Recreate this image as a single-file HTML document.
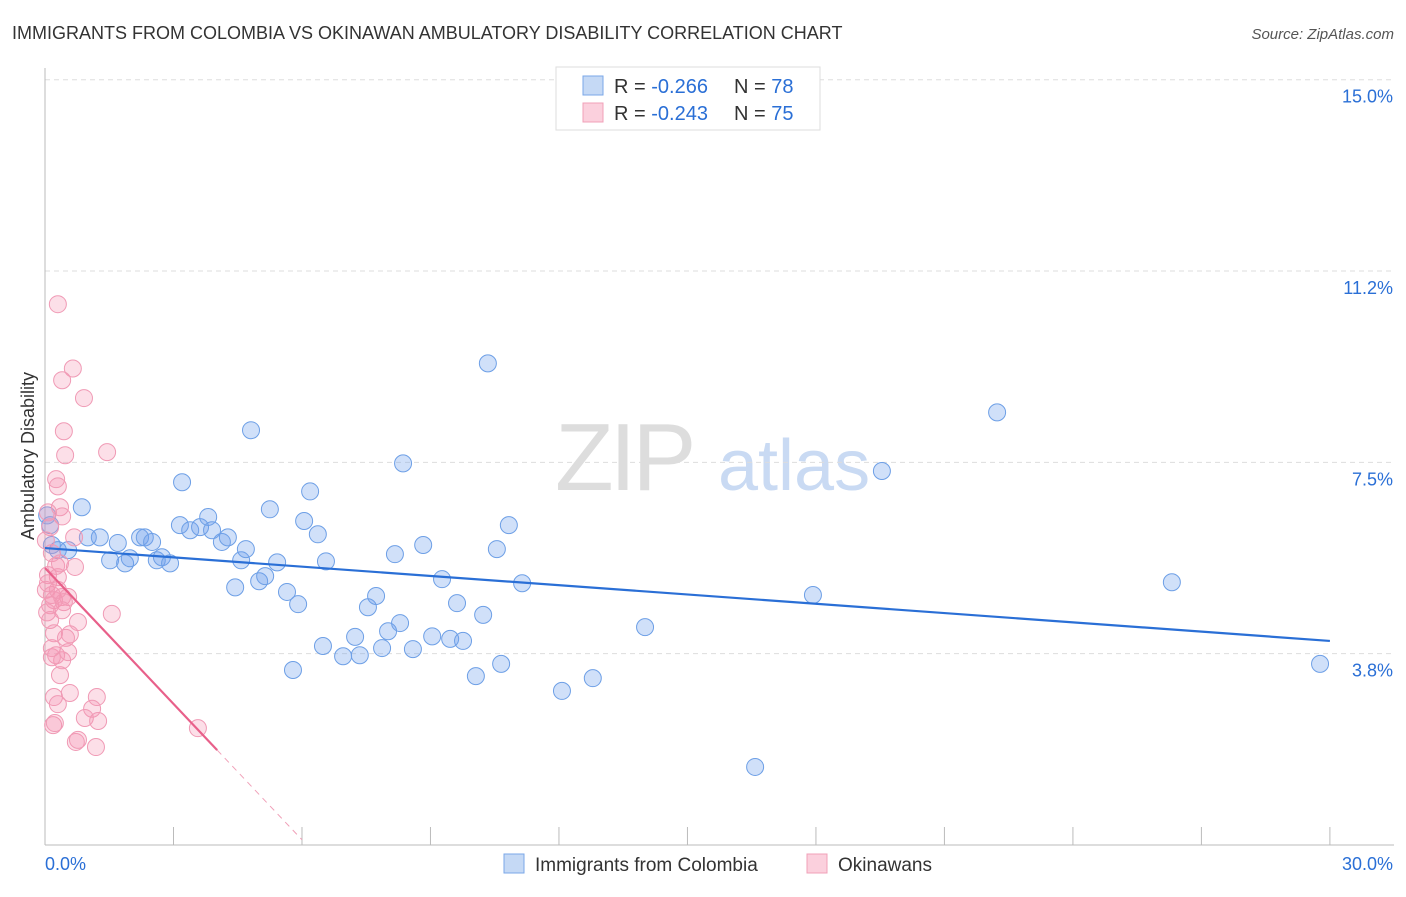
<!DOCTYPE html>
<html><head><meta charset="utf-8"><style>
body{margin:0;background:#fff;font-family:"Liberation Sans",sans-serif}
svg text{font-family:"Liberation Sans",sans-serif}
</style></head><body>
<svg id="chart" width="1406" height="892" viewBox="0 0 1406 892" xmlns="http://www.w3.org/2000/svg">
<text x="12" y="39" font-size="18" fill="#333">IMMIGRANTS FROM COLOMBIA VS OKINAWAN AMBULATORY DISABILITY CORRELATION CHART</text>
<text x="1394" y="39" font-size="15" fill="#555" text-anchor="end" font-style="italic">Source: ZipAtlas.com</text>
<g>
<text x="555" y="490" font-size="96" fill="#ddd" font-family="Liberation Serif" letter-spacing="-4">ZIP</text>
<text x="718" y="490" font-size="72" fill="#c9daf3">atlas</text>
</g>
<g id="grid"></g>
<g id="axes"></g>
<g id="marks"></g>
<g id="trends"></g>
<text transform="translate(34,456) rotate(-90)" font-size="18" fill="#333" text-anchor="middle">Ambulatory Disability</text>
<g>
<rect x="556" y="67" width="264" height="63" fill="#fff" stroke="#ddd"/>
<rect x="583" y="76" width="20" height="19" fill="#c5d9f5" stroke="#7aa7e8"/>
<rect x="583" y="103" width="20" height="19" fill="#fbd0dd" stroke="#f0a0b8"/>
<text x="614" y="93" font-size="20" fill="#333">R = <tspan fill="#2a6fd6">-0.266</tspan><tspan x="734">N = </tspan><tspan fill="#2a6fd6">78</tspan></text>
<text x="614" y="120" font-size="20" fill="#333">R = <tspan fill="#2a6fd6">-0.243</tspan><tspan x="734">N = </tspan><tspan fill="#2a6fd6">75</tspan></text>
</g>
<g>
<rect x="504" y="854" width="20" height="19" fill="#c5d9f5" stroke="#7aa7e8"/>
<text x="535" y="871" font-size="19" fill="#333">Immigrants from Colombia</text>
<rect x="807" y="854" width="20" height="19" fill="#fbd0dd" stroke="#f0a0b8"/>
<text x="838" y="871" font-size="19" fill="#333">Okinawans</text>
</g>
</svg>
<script>
const blueX=[0.05,0.12,0.16,0.30,0.54,0.86,1.00,1.28,1.52,1.70,1.87,1.98,2.22,2.33,2.50,2.61,2.73,2.92,3.15,3.20,3.39,3.62,3.81,3.90,4.13,4.27,4.44,4.58,4.69,4.81,5.00,5.14,5.25,5.42,5.65,5.79,5.91,6.05,6.19,6.37,6.49,6.56,6.96,7.24,7.35,7.54,7.73,7.87,8.01,8.29,8.36,8.17,8.59,8.83,9.04,9.27,9.46,9.62,9.76,10.06,10.23,10.34,10.55,10.65,10.83,11.14,12.07,12.79,14.01,16.58,17.93,19.54,22.23,26.31,29.77];
const blueY=[6.46,6.27,5.88,5.78,5.78,6.62,6.03,6.03,5.58,5.92,5.52,5.62,6.03,6.03,5.94,5.58,5.64,5.52,6.27,7.11,6.17,6.23,6.43,6.17,5.94,6.03,5.05,5.58,5.80,8.13,5.17,5.27,6.58,5.54,4.96,3.43,4.72,6.35,6.93,6.09,3.90,5.56,3.70,4.08,3.72,4.66,4.88,3.86,4.19,4.35,7.48,5.70,3.84,5.88,4.09,5.21,4.04,4.74,4.00,3.31,4.51,9.44,5.80,3.55,6.27,5.13,3.02,3.27,4.27,1.53,4.90,7.33,8.48,5.15,3.55];
const pinkX=[0.30,0.65,0.40,0.91,1.45,0.44,0.47,0.26,0.30,0.35,0.07,0.40,0.12,0.02,0.68,0.16,0.26,0.70,0.07,0.30,0.02,0.16,0.40,0.54,0.12,0.21,0.44,0.05,0.12,0.77,0.58,0.21,0.49,1.56,0.26,0.40,0.54,0.16,0.35,0.58,0.21,1.21,1.10,0.93,1.24,0.19,0.23,0.72,0.77,1.19,3.57,0.35,0.07,0.30,0.40,0.16,0.30];
const pinkY=[10.60,9.34,9.11,8.76,7.70,8.11,7.64,7.17,7.03,6.62,6.52,6.44,6.23,5.97,6.03,5.72,5.47,5.45,5.29,5.25,5.00,4.90,4.86,4.86,4.70,4.80,4.76,4.56,4.41,4.37,4.13,4.15,4.06,4.53,3.72,3.62,3.78,3.68,3.33,2.98,2.90,2.90,2.67,2.49,2.43,2.35,2.39,2.02,2.06,1.92,2.29,5.52,5.13,5.00,4.60,3.86,2.76];
const yTicks=[3.75,7.5,11.25,15];
const yTickLabels=["3.8%","7.5%","11.2%","15.0%"];
const xTicks=[0,3,6,9,12,15,18,21,24,27,30];
const blueTrend=[5.82,4.00];
const pinkTrend=[5.43,-0.888];
const pinkSolidEnd=4.02, pinkDashEnd=6;

const NS="http://www.w3.org/2000/svg";
const X=v=>45+v*42.83, Y=v=>845-v*51.02;
function mk(tag,attrs,parent){const e=document.createElementNS(NS,tag);for(const k in attrs)e.setAttribute(k,attrs[k]);parent.appendChild(e);return e;}
const grid=document.getElementById('grid'),axes=document.getElementById('axes'),marks=document.getElementById('marks'),trends=document.getElementById('trends');
yTicks.forEach((t,i)=>{
  const l=mk('line',{x1:45,x2:1394,y1:Y(t),y2:Y(t),stroke:'#ddd','stroke-dasharray':'5,4'},grid);
  
  
  const tx=mk('text',{x:1393,y:Y(t)+23,'font-size':18,fill:'#2a6fd6','text-anchor':'end'},axes);
  tx.textContent=yTickLabels[i];
  
  
});
const ax=mk('line',{x1:45,x2:1394,y1:845,y2:845,stroke:'#bbb'},axes);


const ay=mk('line',{x1:45,x2:45,y1:68,y2:845,stroke:'#bbb'},axes);


xTicks.forEach(t=>{
  const l=mk('line',{x1:X(t),x2:X(t),y1:827,y2:845,stroke:'#bbb'},axes);
  
  
});
const xl0=mk('text',{x:45,y:870,'font-size':18,fill:'#2a6fd6'},axes);xl0.textContent='0.0%';


const xl1=mk('text',{x:1393,y:870,'font-size':18,fill:'#2a6fd6','text-anchor':'end'},axes);xl1.textContent='30.0%';


blueX.forEach((v,i)=>{
  const c=mk('circle',{cx:X(v),cy:Y(blueY[i]),r:8.5,fill:'rgba(110,160,235,0.32)',stroke:'#6d9fe6','stroke-width':1},marks);
  
  
});
pinkX.forEach((v,i)=>{
  const c=mk('circle',{cx:X(v),cy:Y(pinkY[i]),r:8.5,fill:'rgba(245,150,180,0.3)',stroke:'#f09ab5','stroke-width':1},marks);
  
  
});
const bt=mk('line',{x1:X(0),y1:Y(blueTrend[0]),x2:X(30),y2:Y(blueTrend[1]),stroke:'#2a6fd6','stroke-width':2.2},trends);


const pv=x=>pinkTrend[0]+pinkTrend[1]*x;
const pt=mk('line',{x1:X(0),y1:Y(pv(0)),x2:X(pinkSolidEnd),y2:Y(pv(pinkSolidEnd)),stroke:'#e8608a','stroke-width':2.2},trends);


const pd=mk('line',{x1:X(pinkSolidEnd),y1:Y(pv(pinkSolidEnd)),x2:X(pinkDashEnd),y2:Y(pv(pinkDashEnd)),stroke:'#f0a0b8','stroke-width':1,'stroke-dasharray':'6,5'},trends);


</script>
</body></html>
